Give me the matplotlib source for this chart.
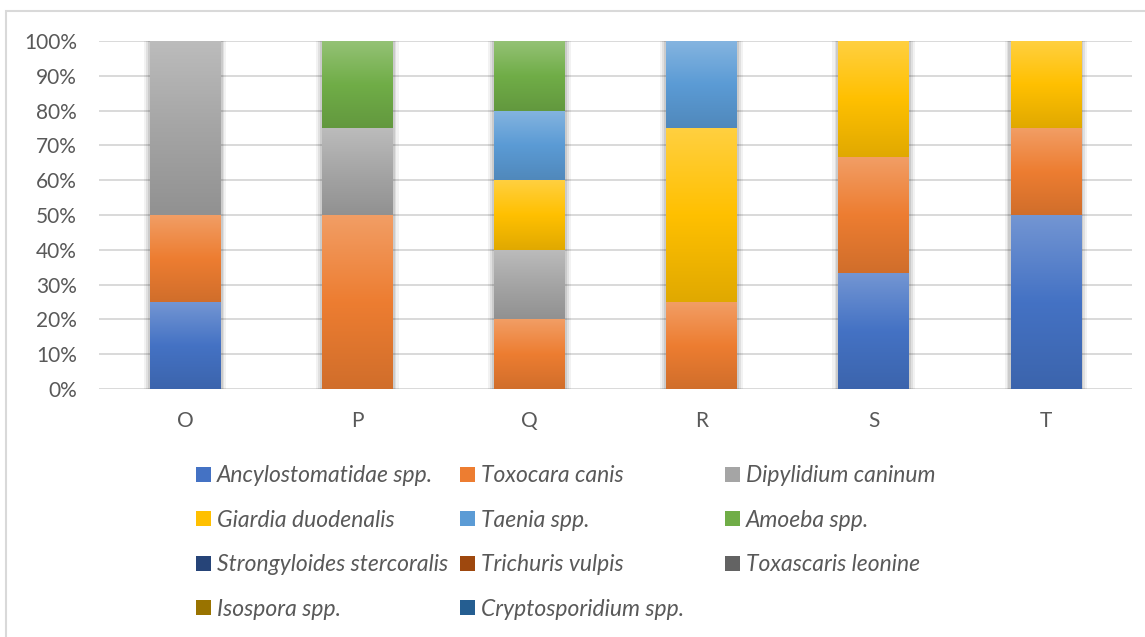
import numpy as np
import matplotlib
matplotlib.use("Agg")
import matplotlib.pyplot as plt
from matplotlib.colors import to_rgb
from matplotlib.patches import Patch, Rectangle

plt.rcParams['font.family'] = ['Lato', 'DejaVu Sans']

# Datos: numero de hallazgos por sitio (grafico al 100%)
sitios = ['O', 'P', 'Q', 'R', 'S', 'T']
especies = ['Ancylostomatidae spp.', 'Toxocara canis', 'Dipylidium caninum',
            'Giardia duodenalis', 'Taenia spp.', 'Amoeba spp.',
            'Strongyloides stercoralis', 'Trichuris vulpis', 'Toxascaris leonine',
            'Isospora spp.', 'Cryptosporidium spp.']
colores = ['#4472C4', '#ED7D31', '#A5A5A5', '#FFC000', '#5B9BD5', '#70AD47',
           '#264478', '#9E480E', '#636363', '#997300', '#255E91']

ancylostomatidae = [1, 0, 0, 0, 1, 2]
toxocara = [1, 2, 1, 1, 1, 1]
dipylidium = [2, 1, 1, 0, 0, 0]
giardia = [0, 0, 1, 2, 1, 1]
taenia = [0, 0, 1, 1, 0, 0]
amoeba = [0, 1, 1, 0, 0, 0]
strongyloides = [0, 0, 0, 0, 0, 0]
trichuris = [0, 0, 0, 0, 0, 0]
toxascaris = [0, 0, 0, 0, 0, 0]
isospora = [0, 0, 0, 0, 0, 0]
cryptosporidium = [0, 0, 0, 0, 0, 0]

series = [ancylostomatidae, toxocara, dipylidium, giardia, taenia, amoeba,
          strongyloides, trichuris, toxascaris, isospora, cryptosporidium]

W, H = 1145, 637
fig = plt.figure(figsize=(W / 100, H / 100), dpi=100)
ax = fig.add_axes([99 / W, 1 - 389 / H, (1132 - 99) / W, (389 - 41) / H])

datos = np.array(series, dtype=float)
porcentaje = datos / datos.sum(axis=0) * 100
x = np.arange(len(sitios))
ancho = 0.41


def degradado(barra, color):
    h = barra.get_height()
    if h <= 0:
        return
    base = np.array(to_rgb(color))
    claro = base + (1 - base) * 0.25
    oscuro = base * 0.88
    t = np.linspace(0, 1, 80)[:, None]
    abajo = oscuro + (base - oscuro) * np.clip(t / 0.5, 0, 1)
    arriba = base + (claro - base) * np.clip((t - 0.5) / 0.5, 0, 1)
    img = np.where(t < 0.5, abajo, arriba)[:, None, :]
    x0, y0 = barra.get_x(), barra.get_y()
    ax.imshow(img, extent=[x0, x0 + barra.get_width(), y0, y0 + h],
              origin='lower', aspect='auto', interpolation='bilinear', zorder=3)


# sombra suave detras de cada columna
totales = porcentaje.sum(axis=0)
for extra, alfa in [(0.07, 0.05), (0.045, 0.07), (0.025, 0.09)]:
    ax.bar(x, totales + extra * 8, width=ancho + extra, bottom=-extra * 6,
           color='black', alpha=alfa, linewidth=0, zorder=2)

base_acum = np.zeros(len(sitios))
for valores, color in zip(porcentaje, colores):
    barras = ax.bar(x, valores, width=ancho, bottom=base_acum, color='none',
                    linewidth=0, zorder=3)
    for barra in barras:
        degradado(barra, color)
    base_acum += valores

ax.set_xlim(-0.5, 5.5)
ax.set_ylim(0, 100)
ax.set_yticks(np.arange(0, 101, 10))
ax.set_yticklabels([f'{v}%' for v in range(0, 101, 10)])
ax.set_xticks(x)
ax.set_xticklabels(sitios)
ax.tick_params(axis='both', length=0, labelsize=15, labelcolor='#595959')
ax.tick_params(axis='y', pad=16)
ax.tick_params(axis='x', pad=16)
ax.yaxis.grid(True, color='#d9d9d9', linewidth=1.4, zorder=1)
ax.set_axisbelow(True)
for s in ax.spines.values():
    s.set_visible(False)

# leyenda en tres columnas (orden por filas como en el original)
columnas = [[0, 3, 6, 9], [1, 4, 7, 10], [2, 5, 8]]
pos_x = [196, 460, 725]
fuente = {'family': 'Lato', 'style': 'italic', 'size': 16.5}
for col, px in zip(columnas, pos_x):
    handles = [Patch(facecolor=colores[i], edgecolor='none') for i in col]
    etiquetas = [especies[i] for i in col]
    leg = fig.legend(handles, etiquetas, loc='upper left',
                     bbox_to_anchor=(px / W, 1 - 465.5 / H), frameon=False,
                     prop=fuente, handlelength=0.65, handleheight=0.65,
                     handletextpad=0.25, labelspacing=1.02, borderpad=0,
                     borderaxespad=0)
    for txt in leg.get_texts():
        txt.set_color('#595959')

# borde del grafico
fig.patches.append(Rectangle((6 / W, -1), 2, 1 - 11 / H + 1,
                             transform=fig.transFigure, fill=False,
                             edgecolor='#d9d9d9', linewidth=1.5))

fig.savefig('out.png', dpi=100)
